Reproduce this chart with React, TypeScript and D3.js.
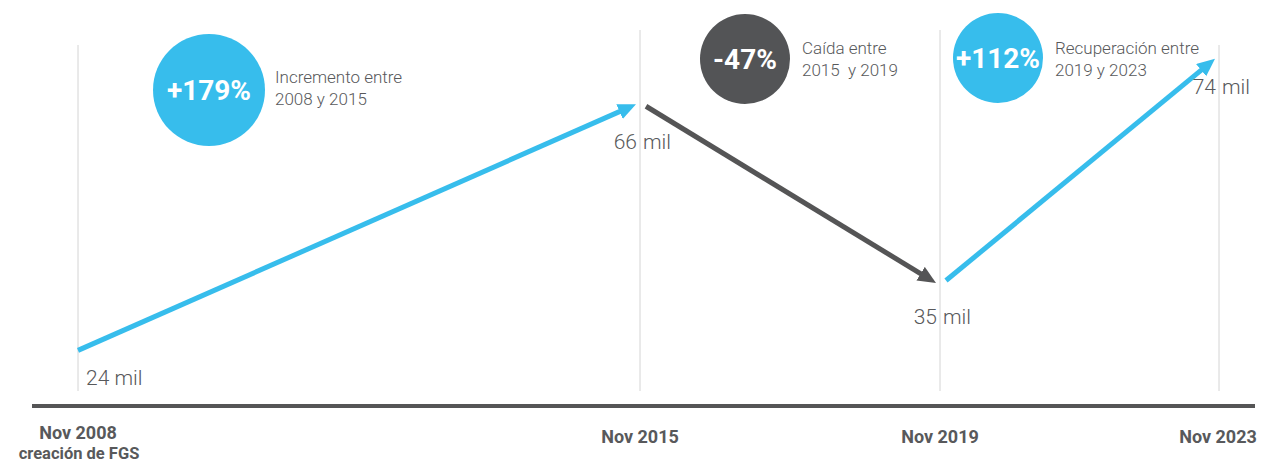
import * as d3 from 'd3'

// Periods on the timeline
const periods = ['Nov 2008', 'Nov 2015', 'Nov 2019', 'Nov 2023']
const periodNotes = ['creación de FGS', '', '', '']
const years = [2008, 2015, 2019, 2023]

// Values in thousands
const values = [24, 66, 35, 74]
const valueLabels = ['24 mil', '66 mil', '35 mil', '74 mil']

// Changes between periods
const changes = ['+179%', '-47%', '+112%']
const changeNotes = [
  ['Incremento entre', '2008 y 2015'],
  ['Caída entre', '2015  y 2019'],
  ['Recuperación entre', '2019 y 2023'],
]

const BLUE = '#37bdec'
const DARK = '#555556'
const TEXT = '#58595b'
const FONT = 'Roboto, "Open Sans", sans-serif'

export default function App() {
  const width = 1261
  const height = 463

  const x = d3.scaleLinear().domain(years).range([78, 640, 940, 1219])
  const y = d3.scaleLinear().domain([0, 80]).range([492, 20])

  const baseY = 406

  const segments = d3.pairs(values.map((v, i) => ({ v, i }))).map(([a, b]) => {
    const x0 = x(years[a.i])
    const y0 = y(a.v)
    const x1 = x(years[b.i])
    const y1 = y(b.v)
    const gapStart = a.i === 0 ? 0 : 6
    const gapEnd = 4
    const sx = x0 + gapStart
    const ex = x1 - gapEnd
    const slope = (y1 - y0) / (x1 - x0)
    const sy = y0 + slope * gapStart
    const ey = y1 - slope * gapEnd
    // shorten the line so the arrow tip sits at (ex, ey)
    const len = Math.hypot(ex - sx, ey - sy)
    const k = (len - 10) / len
    return {
      sx,
      sy,
      lx: sx + (ex - sx) * k,
      ly: sy + (ey - sy) * k,
      color: b.v >= a.v ? BLUE : DARK,
      up: b.v >= a.v,
    }
  })

  // badge layout for each change
  const badges = [
    { cx: 209, cy: 90, r: 56, tx: 275, ty: 83 },
    { cx: 745, cy: 59, r: 45, tx: 802, ty: 54 },
    { cx: 998, cy: 58, r: 45, tx: 1055, ty: 54 },
  ]

  // value label offsets below each point
  const labelDy = [35, 46, 38, 39]

  return (
    <svg
      width={width}
      height={height}
      style={{ position: 'absolute', left: 0, top: 0, background: '#fff' }}
      fontFamily={FONT}
    >
      <defs>
        <marker
          id="arrow-blue"
          markerUnits="userSpaceOnUse"
          markerWidth={20}
          markerHeight={18}
          refX={8}
          refY={8}
          orient="auto"
        >
          <path d="M0,0 L18,8 L0,16 Z" fill={BLUE} />
        </marker>
        <marker
          id="arrow-dark"
          markerUnits="userSpaceOnUse"
          markerWidth={20}
          markerHeight={18}
          refX={8}
          refY={8}
          orient="auto"
        >
          <path d="M0,0 L18,8 L0,16 Z" fill={DARK} />
        </marker>
      </defs>

      {/* vertical guides */}
      {years.map((yr, i) => (
        <line
          key={yr}
          x1={x(yr)}
          x2={x(yr)}
          y1={i === 0 || i === years.length - 1 ? 45 : 30}
          y2={391}
          stroke="#d4d4d4"
          strokeWidth={1}
        />
      ))}

      {/* baseline */}
      <line x1={32} x2={1255} y1={baseY} y2={baseY} stroke={DARK} strokeWidth={4} />

      {/* period labels */}
      {periods.map((p, i) => (
        <g key={p} fontWeight={700} fontSize={18} fill={TEXT} textAnchor="middle">
          <text
            x={i === periods.length - 1 ? x(years[i]) - 1 : x(years[i])}
            y={periodNotes[i] ? 439 : 443}
          >
            {p}
          </text>
          {periodNotes[i] && (
            <text x={x(years[i]) + 1} y={459} fontSize={16.5}>
              {periodNotes[i]}
            </text>
          )}
        </g>
      ))}

      {/* arrows */}
      {segments.map((s, i) => (
        <line
          key={i}
          x1={s.sx}
          y1={s.sy}
          x2={s.lx}
          y2={s.ly}
          stroke={s.color}
          strokeWidth={5}
          markerEnd={`url(#${s.up ? 'arrow-blue' : 'arrow-dark'})`}
        />
      ))}

      {/* value labels */}
      {values.map((v, i) => {
        const px = x(years[i])
        const py = y(v) + labelDy[i]
        const [num, unit] = valueLabels[i].split(' ')
        if (i === 0) {
          return (
            <text key={i} x={px + 8} y={py} fontSize={21} fontWeight={300} fill={TEXT}>
              {valueLabels[i]}
            </text>
          )
        }
        return (
          <g key={i} fontSize={21} fontWeight={300} fill={TEXT}>
            <text x={px - 3} y={py} textAnchor="end">
              {num}
            </text>
            <text x={px + 3} y={py}>
              {unit}
            </text>
          </g>
        )
      })}

      {/* change badges */}
      {changes.map((c, i) => {
        const b = badges[i]
        const color = c.startsWith('-') ? '#535456' : BLUE
        return (
          <g key={c}>
            <circle cx={b.cx} cy={b.cy} r={b.r} fill={color} />
            <text
              x={b.cx}
              y={b.cy + 10}
              textAnchor="middle"
              fill="#fff"
              fontWeight={700}
              fontSize={28}
            >
              {c}
            </text>
            {changeNotes[i].map((line, j) => (
              <text
                key={j}
                x={b.tx}
                y={b.ty + j * 22}
                fontSize={17}
                fontWeight={300}
                fill={TEXT}
                style={{ whiteSpace: 'pre' }}
              >
                {line}
              </text>
            ))}
          </g>
        )
      })}
    </svg>
  )
}
